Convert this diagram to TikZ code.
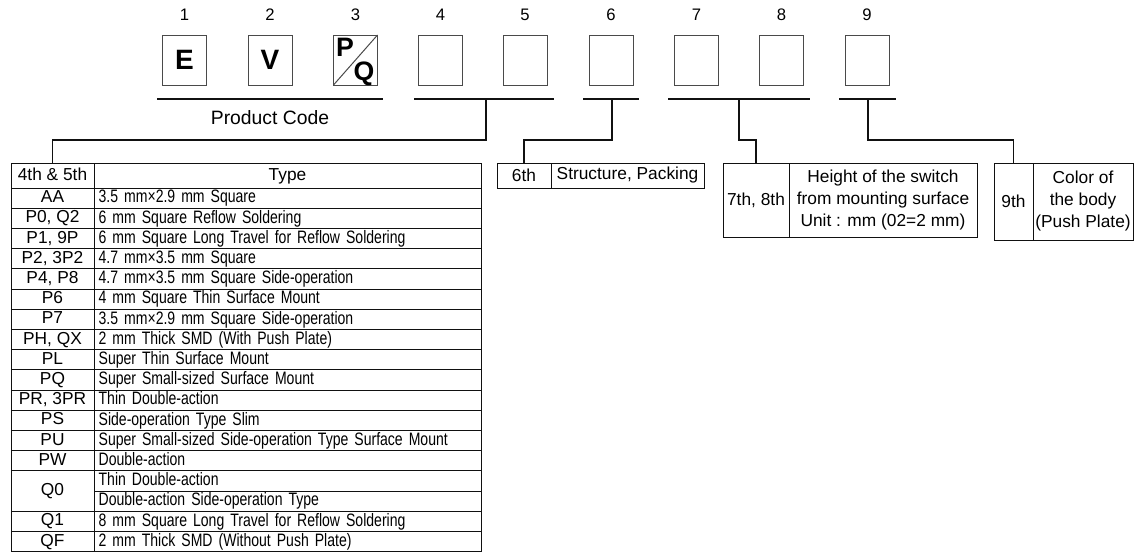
\documentclass[tikz,border=0pt]{standalone}
\usepackage{fontspec}
\setmainfont{Liberation Sans}
\newfontfamily\narrowfont[FakeStretch=0.78, WordSpace=0.7]{Liberation Sans}
\usetikzlibrary{positioning}
\definecolor{evqBlack}{HTML}{111111}
\definecolor{evqGray}{HTML}{4A4A4A}

\begin{document}
\begin{tikzpicture}[
    x=0.75pt, y=-0.75pt,
    node distance=0pt,
    digit/.style={
        font=\fontsize{12.5}{14}\selectfont, anchor=center
    },
    cbox/.style={
        draw=evqGray, line width=0.75pt, minimum width=33pt, minimum height=37.5pt,
        inner sep=0pt, outer sep=0pt, font=\fontsize{21}{23}\selectfont\bfseries
    },
    letter/.style={
        inner sep=0pt, font=\fontsize{20}{22}\selectfont\bfseries
    },
    bar/.style={draw=evqBlack, line width=0.8pt},
    hdr/.style={
        draw=evqBlack, line width=0.75pt, minimum height=18.75pt, inner sep=1pt,
        outer sep=0pt, font=\fontsize{13}{15}\selectfont, text height=9.5pt, text depth=2.5pt
    },
    cod/.style={
        draw=evqBlack, line width=0.75pt, minimum width=62.25pt, minimum height=15.15pt,
        inner sep=0pt, outer sep=0pt, font=\fontsize{13}{15}\selectfont,
        text height=9.5pt, text depth=2.5pt
    },
    typ/.style={
        draw=evqBlack, line width=0.75pt, minimum height=15.15pt, inner xsep=3.5pt,
        inner ysep=0pt, outer sep=0pt, text width=283.25pt, align=left,
        font=\narrowfont\fontsize{13.5}{14}\selectfont, text height=10pt, text depth=2.8pt
    },
    keyc/.style={
        draw=evqBlack, line width=0.75pt, inner sep=1pt, outer sep=0pt, align=center,
        font=\fontsize{13}{16.5}\selectfont
    }
]
\useasboundingbox (0,0) rectangle (1135,554);

% === Code boxes ===
\node[digit] (n1) at (184.5,15) {1};
\node[digit] (n2) at (270,15) {2};
\node[digit] (n3) at (355.5,15) {3};
\node[digit] (n4) at (440.5,15) {4};
\node[digit] (n5) at (525,15) {5};
\node[digit] (n6) at (611,15) {6};
\node[digit] (n7) at (696.5,15) {7};
\node[digit] (n8) at (781.5,15) {8};
\node[digit] (n9) at (867,15) {9};

\node[cbox] (d1) at (184.5,60) {E};
\node[cbox] (d2) at (270,60) {V};
\node[cbox] (d3) at (355.5,60) {};
\node[cbox] (d4) at (440.5,60) {};
\node[cbox] (d5) at (525,60) {};
\node[cbox] (d6) at (611,60) {};
\node[cbox] (d7) at (696.5,60) {};
\node[cbox] (d8) at (781.5,60) {};
\node[cbox] (d9) at (867,60) {};

% P over Q
\draw[draw=evqGray, line width=0.75pt] (d3.south west) -- (d3.north east);
\node[letter] (p3) at (345,47) {P};
\node[letter] (q3) at (364,74) {Q};

% === Group bars ===
\coordinate (u13a) at (157,99);
\coordinate (u13b) at (383,99);
\coordinate (u45a) at (414,99);
\coordinate (u45b) at (554,99);
\coordinate (u45) at (486,99);
\coordinate (u6a) at (583,99);
\coordinate (u6b) at (639,99);
\coordinate (u6) at (612,99);
\coordinate (u78a) at (668,99);
\coordinate (u78b) at (810,99);
\coordinate (u78) at (739,99);
\coordinate (u9a) at (839,99);
\coordinate (u9b) at (896,99);
\coordinate (u9) at (868,99);

\draw[bar] (u13a) -- (u13b);
\draw[bar] (u45a) -- (u45b);
\draw[bar] (u6a) -- (u6b);
\draw[bar] (u78a) -- (u78b);
\draw[bar] (u9a) -- (u9b);

\node[font=\fontsize{14.5}{16}\selectfont] (pcode) at (270,118) {Product Code};

% === Type table (4th & 5th) ===
\node[hdr, minimum width=62.25pt, anchor=north west] (hcode) at (11,163) {4th \& 5th};
\node[hdr, minimum width=290.25pt, right=of hcode] (htype) {Type};

\node[cod, below=of hcode] (c_aa) {AA};
\node[typ, below=of htype] (t_aa) {3.5 mm×2.9 mm Square};

\node[cod, below=of c_aa] (c_p0) {P0, Q2};
\node[typ, below=of t_aa] (t_p0) {6 mm Square Reflow Soldering};

\node[cod, below=of c_p0] (c_p1) {P1, 9P};
\node[typ, below=of t_p0] (t_p1) {6 mm Square Long Travel for Reflow Soldering};

\node[cod, below=of c_p1] (c_p2) {P2, 3P2};
\node[typ, below=of t_p1] (t_p2) {4.7 mm×3.5 mm Square};

\node[cod, below=of c_p2] (c_p4) {P4, P8};
\node[typ, below=of t_p2] (t_p4) {4.7 mm×3.5 mm Square Side-operation};

\node[cod, below=of c_p4] (c_p6) {P6};
\node[typ, below=of t_p4] (t_p6) {4 mm Square Thin Surface Mount};

\node[cod, below=of c_p6] (c_p7) {P7};
\node[typ, below=of t_p6] (t_p7) {3.5 mm×2.9 mm Square Side-operation};

\node[cod, below=of c_p7] (c_ph) {PH, QX};
\node[typ, below=of t_p7] (t_ph) {2 mm Thick SMD (With Push Plate)};

\node[cod, below=of c_ph] (c_pl) {PL};
\node[typ, below=of t_ph] (t_pl) {Super Thin Surface Mount};

\node[cod, below=of c_pl] (c_pq) {PQ};
\node[typ, below=of t_pl] (t_pq) {Super Small-sized Surface Mount};

\node[cod, below=of c_pq] (c_pr) {PR, 3PR};
\node[typ, below=of t_pq] (t_pr) {Thin Double-action};

\node[cod, below=of c_pr] (c_ps) {PS};
\node[typ, below=of t_pr] (t_ps) {Side-operation Type Slim};

\node[cod, below=of c_ps] (c_pu) {PU};
\node[typ, below=of t_ps] (t_pu) {Super Small-sized Side-operation Type Surface Mount};

\node[cod, below=of c_pu] (c_pw) {PW};
\node[typ, below=of t_pu] (t_pw) {Double-action};

% Q0 spans two rows
\node[cod, minimum height=30.3pt, below=of c_pw] (c_q0) {Q0};
\node[typ, below=of t_pw] (t_q0a) {Thin Double-action};
\node[typ, below=of t_q0a] (t_q0b) {Double-action Side-operation Type};

\node[cod, below=of c_q0] (c_q1) {Q1};
\node[typ, below=of t_q0b] (t_q1) {8 mm Square Long Travel for Reflow Soldering};

\node[cod, below=of c_q1] (c_qf) {QF};
\node[typ, below=of t_q1] (t_qf) {2 mm Thick SMD (Without Push Plate)};

% === 6th ===
\node[keyc, minimum width=40.5pt, minimum height=18.75pt, anchor=north west] (c6) at (497,163) {6th};
\node[keyc, minimum width=114.75pt, minimum height=18.75pt, right=of c6] (s6) {Structure, Packing};

% === 7th, 8th ===
\node[keyc, minimum width=49.5pt, minimum height=55.5pt, anchor=north west] (c78) at (723,163) {7th, 8th};
\node[keyc, minimum width=141pt, minimum height=55.5pt, right=of c78] (s78)
    {Height of the switch\\from mounting surface\\Unit : mm (02=2 mm)};

% === 9th ===
\node[keyc, minimum width=29.25pt, minimum height=57.75pt, anchor=north west] (c9) at (994,163) {9th};
\node[keyc, minimum width=75pt, minimum height=57.75pt, right=of c9] (s9)
    {Color of\\the body\\(Push Plate)};

% === Connectors ===
\draw[bar] (u45) -- ++(0,41) -| (hcode.north);
\draw[bar] (u6) -- ++(0,41) -| (c6.north);
\draw[bar] (u78) -- ++(0,41) -| (c78.north);
\draw[bar] (u9) -- ++(0,41) -| (c9.north);

\end{tikzpicture}
\end{document}
